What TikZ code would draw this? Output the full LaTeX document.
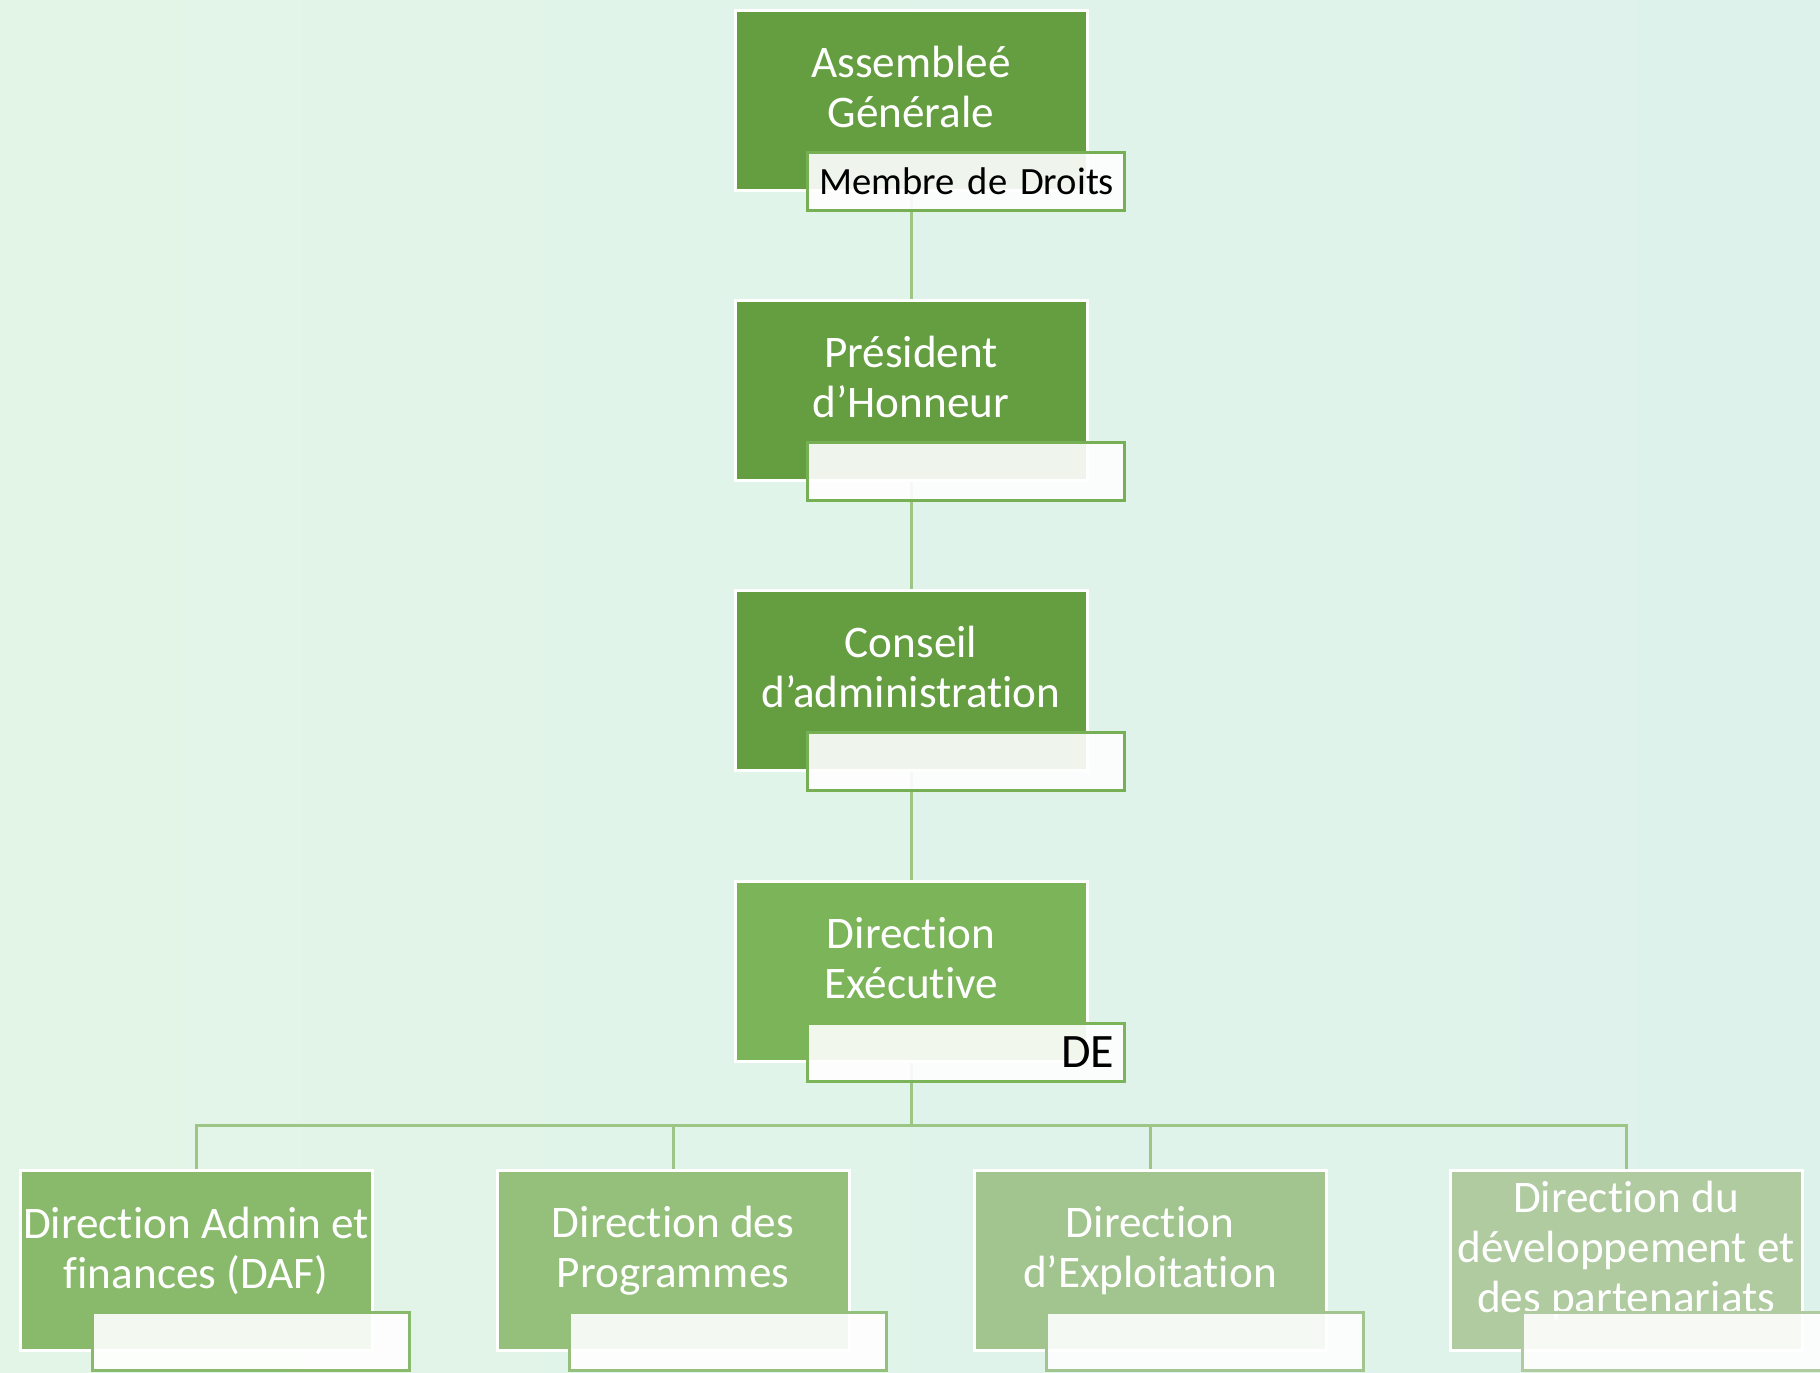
\documentclass[tikz,border=0pt]{standalone}
\usepackage{fontspec}
\setmainfont[RawFeature=-liga]{Carlito}
\usetikzlibrary{backgrounds}
\definecolor{bgleft}{HTML}{E3F5E7}
\definecolor{bgright}{HTML}{DEF2EC}
\definecolor{boardgreen}{HTML}{659D41}
\definecolor{boardline}{HTML}{77AF55}
\definecolor{execgreen}{HTML}{7CB45A}
\definecolor{dafgreen}{HTML}{89BA6B}
\definecolor{proggreen}{HTML}{94C07B}
\definecolor{exploitgreen}{HTML}{A2C58F}
\definecolor{devgreen}{HTML}{AFCB9F}
\definecolor{linkgreen}{HTML}{9CC586}
\begin{document}
\begin{tikzpicture}[x=0.5pt,y=-0.5pt,
    unit/.style={rectangle, draw=white, line width=1.5pt, minimum width=176pt,
      minimum height=90pt, inner sep=0pt},
    unittext/.style={text=white, align=center, inner sep=0pt,
      font=\fontsize{22.6}{25}\selectfont},
    tag/.style={rectangle, draw=#1, fill=white, fill opacity=0.9, text opacity=1,
      line width=1.5pt, text width=148.5pt, inner xsep=5pt, inner ysep=0pt,
      minimum height=29pt, align=right, anchor=south east,
      font=\fontsize{19.3}{22}\selectfont},
    link/.style={draw=linkgreen, line width=1.5pt}]
  \useasboundingbox (0,0) rectangle (1820,1372);
  \begin{scope}[on background layer]
    \shade[left color=bgleft, right color=bgright] (0,0) rectangle (1820,1372);
  \end{scope}
  % column
  \node[unit, fill=boardgreen] (ag) at (911,100) {};
  \node[unit, fill=boardgreen] (ph) at (911,390) {};
  \node[unit, fill=boardgreen] (ca) at (911,680) {};
  \node[unit, fill=execgreen] (de) at (911,971) {};
  % directions
  \node[unit, fill=dafgreen] (daf) at (196,1260) {};
  \node[unit, fill=proggreen] (prog) at (673,1260) {};
  \node[unit, fill=exploitgreen] (exploit) at (1150,1260) {};
  \node[unit, fill=devgreen] (dev) at (1626,1260) {};
  \node[unittext] (ag-txt) at ([yshift=6.5pt]ag.center) {Assembleé\\Générale};
  \node[unittext] (ph-txt) at ([yshift=6.5pt]ph.center) {Président\\d’Honneur};
  \node[unittext] (ca-txt) at ([yshift=6.5pt]ca.center) {Conseil\\d’administration};
  \node[unittext] (de-txt) at ([yshift=6.5pt]de.center) {Direction\\Exécutive};
  \node[unittext] (daf-txt) at ([yshift=4.75pt]daf.center) {Direction Admin et\\finances (DAF)};
  \node[unittext] (prog-txt) at ([yshift=4.75pt]prog.center) {Direction des\\Programmes};
  \node[unittext] (exploit-txt) at ([yshift=4.75pt]exploit.center) {Direction\\d’Exploitation};
  \node[unittext] (dev-txt) at ([yshift=5pt]dev.center) {Direction du\\développement et\\des partenariats};
  % tags
  \node[tag=boardline] (ag-tag) at ([xshift=18.5pt,yshift=-10pt]ag.south east) {Membre de Droits};
  \node[tag=boardline] (ph-tag) at ([xshift=18.5pt,yshift=-10pt]ph.south east) {};
  \node[tag=boardline] (ca-tag) at ([xshift=18.5pt,yshift=-10pt]ca.south east) {};
  \node[tag=execgreen] (de-tag) at ([xshift=18.5pt,yshift=-10pt]de.south east) {\fontsize{24}{26}\selectfont DE};
  \node[tag=dafgreen] (daf-tag) at ([xshift=18.5pt,yshift=-10pt]daf.south east) {};
  \node[tag=proggreen] (prog-tag) at ([xshift=18.5pt,yshift=-10pt]prog.south east) {};
  \node[tag=exploitgreen] (exploit-tag) at ([xshift=18.5pt,yshift=-10pt]exploit.south east) {};
  \node[tag=devgreen] (dev-tag) at ([xshift=18.5pt,yshift=-10pt]dev.south east) {};
  \coordinate (bus) at (911,1125);
  \begin{scope}[on background layer]
    \draw[link] (ag.south) -- (ph.north);
    \draw[link] (ph.south) -- (ca.north);
    \draw[link] (ca.south) -- (de.north);
    \draw[link] (de.south) -- (bus);
    \draw[link] (bus) -| (daf.north);
    \draw[link] (bus) -| (prog.north);
    \draw[link] (bus) -| (exploit.north);
    \draw[link] (bus) -| (dev.north);
  \end{scope}
\end{tikzpicture}
\end{document}
